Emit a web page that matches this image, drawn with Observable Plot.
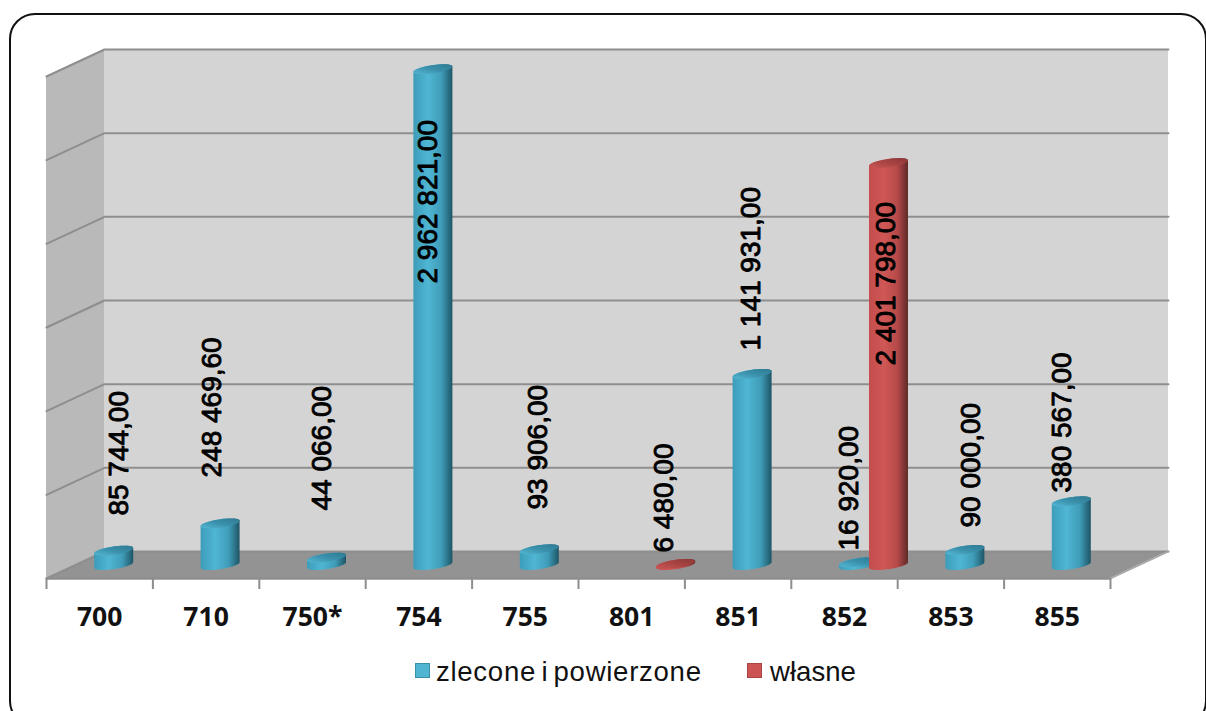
<!DOCTYPE html>
<html lang="pl">
<head>
<meta charset="utf-8">
<script src="https://cdn.jsdelivr.net/npm/d3@7"></script>
<script src="https://cdn.jsdelivr.net/npm/@observablehq/plot@0.6"></script>
<style>
  html, body { margin: 0; padding: 0; width: 1206px; height: 711px; overflow: hidden; background: #fff; }
  #frame { position: absolute; left: 9px; top: 13px; width: 1194px; height: 710px; border: 2px solid #111; border-radius: 26px; }
  #chart { position: absolute; left: 0; top: 0; }
  #chart svg { display: block; background: transparent; overflow: visible; }
  #legend { position: absolute; left: 0; top: 640px; width: 1206px; height: 60px; font: 27.6px "Liberation Sans", Arial, sans-serif; color: #111; }
  #legend span { position: absolute; top: 15px; line-height: 34px; white-space: pre; }
  #legend i { position: absolute; top: 23px; width: 13px; height: 13px; border: 1px solid; }
</style>
</head>
<body>
<div id="frame"></div>
<div id="chart"></div>
<div id="legend">
  <i style="left:415px;background:#4fb5d1;border-color:#3b8fa9"></i><span style="left:436px;letter-spacing:0.7px;word-spacing:-3px">zlecone i powierzone</span>
  <i style="left:747px;background:#cc5452;border-color:#a84544"></i><span style="left:770px">własne</span>
</div>
<script>
const categories = ["700", "710", "750*", "754", "755", "801", "851", "852", "853", "855"];
const zlecone = [85744, 248469.6, 44066, 2962821, 93906, null, 1141931, 16920, 90000, 380567];
const wlasne = [null, null, null, null, null, 6480, null, 2401798, null, null];
const gridValues = [0, 500000, 1000000, 1500000, 2000000, 2500000, 3000000];
const zleconeLabels = ["85 744,00", "248 469,60", "44 066,00", "2 962 821,00", "93 906,00", null, "1 141 931,00", "16 920,00", "90 000,00", "380 567,00"];
const wlasneLabels = [null, null, null, null, null, "6 480,00", null, "2 401 798,00", null, null];
// Hand-placed label anchors of the original chart, in axis units
const zleconeLabelCat = [0.68, 1.56, 2.585, 3.59, 4.62, null, 6.62, 7.54, 8.69, 9.54];
const zleconeLabelVal = [376000, 603600, 406400, 1762900, 412300, null, 1362500, 167300, 304800, 514000];
const wlasneLabelCat = [null, null, null, null, null, 5.80, null, 7.89, null, null];
const wlasneLabelVal = [null, null, null, null, null, 155400, null, 1272900, null, null];

// Oblique depth of the 3D box expressed in axis units
const depthCat = 0.545, depthVal = 161355;
const radiusCat = 0.153, radiusDepth = 0.185, seriesOffset = 0.141;
const nCat = categories.length;

const defs = () => {
  const s = d3.create("svg:defs");
  const grad = (id, stops, y1 = 0, y2 = 0) => {
    const g = s.append("linearGradient").attr("id", id).attr("x1", 0).attr("x2", 1).attr("y1", y1).attr("y2", y2);
    stops.forEach(([o, c]) => g.append("stop").attr("offset", o).attr("stop-color", c));
  };
  grad("blueBody", [[0, "#3c9dba"], [0.38, "#4fb6d3"], [0.72, "#3f9cb8"], [1, "#1d5566"]]);
  grad("blueTop", [[0, "#55b8d4"], [0.5, "#3a90ab"], [1, "#2f7a92"]], 1, 0);
  grad("redBody", [[0, "#c24e4d"], [0.38, "#d05755"], [0.72, "#b64a49"], [1, "#5f2928"]]);
  grad("redTop", [[0, "#cc5654"], [0.5, "#a84443"], [1, "#8c3837"]], 1, 0);
  return s.node();
};

const ellipsePoint = (cx, base, v, t) => ({
  x: cx + radiusCat * Math.cos(t) + radiusDepth * depthCat * Math.sin(t),
  y: base + v + radiusDepth * depthVal * Math.sin(t)
});
const t0 = Math.atan2(radiusDepth * depthCat, radiusCat);
const sweep = (a, b, n = 40) => d3.range(n + 1).map(i => a + (b - a) * i / n);

function cylinders(values, offset) {
  const body = [], cap = [];
  values.forEach((v, i) => {
    if (v == null) return;
    const cx = i + 0.5 + 0.5 * depthCat + offset, base = 0.5 * depthVal;
    sweep(t0 - Math.PI, t0).forEach(t => body.push({ id: i, ...ellipsePoint(cx, base, 0, t) }));
    sweep(t0, t0 + Math.PI).forEach(t => body.push({ id: i, ...ellipsePoint(cx, base, v, t) }));
    sweep(0, 2 * Math.PI, 60).forEach(t => cap.push({ id: i, ...ellipsePoint(cx, base, v, t) }));
  });
  return { body, cap };
}
const blue = cylinders(zlecone, -seriesOffset);
const red = cylinders(wlasne, seriesOffset);

const lineColor = "#8e8e8e";
const gridPaths = gridValues.flatMap(v => [
  { id: v, x: 0, y: v },
  { id: v, x: depthCat, y: v + depthVal },
  { id: v, x: nCat + depthCat, y: v + depthVal }
]);
const labelRows = (labels, cats, vals) => labels.map((t, i) => ({ t, x: cats[i], y: vals[i] })).filter(d => d.t);
const valueLabels = [...labelRows(zleconeLabels, zleconeLabelCat, zleconeLabelVal), ...labelRows(wlasneLabels, wlasneLabelCat, wlasneLabelVal)];
const maxValue = gridValues[gridValues.length - 1];

const plotEl = Plot.plot({
  width: 1206, height: 640,
  marginTop: 0, marginRight: 0, marginBottom: 0, marginLeft: 0,
  x: { type: "linear", domain: [0, nCat], range: [46, 1110], axis: null },
  y: { type: "linear", domain: [0, maxValue], range: [578, 76], axis: null },
  marks: [
    defs,
    // back wall
    Plot.rect([0], { x1: depthCat, x2: nCat + depthCat, y1: depthVal, y2: maxValue + depthVal, fill: "#d4d4d4" }),
    // side wall
    Plot.areaY([0, 1], { x: d => d * depthCat, y1: d => d * depthVal, y2: d => maxValue + d * depthVal, fill: "#b9b9b9" }),
    // floor
    Plot.areaX([0, 1], { y: d => d * depthVal, x1: d => d * depthCat, x2: d => nCat + d * depthCat, fill: "#939393" }),
    // grid lines, wrapping the side wall and the back wall
    Plot.line(gridPaths, { x: "x", y: "y", z: "id", stroke: lineColor, strokeWidth: 2 }),
    Plot.line([0, 1], { x: d => nCat + d * depthCat, y: d => d * depthVal, stroke: "#a8a8a8", strokeWidth: 1.6 }),
    Plot.ruleY([0], { x1: 0, x2: nCat, stroke: lineColor, strokeWidth: 2.4 }),
    Plot.ruleX(d3.range(nCat + 1), { y1: 0, y2: -66000, stroke: lineColor, strokeWidth: 2 }),
    // cylinders
    Plot.line(blue.body, { x: "x", y: "y", z: "id", fill: "url(#blueBody)", stroke: null }),
    Plot.line(blue.cap, { x: "x", y: "y", z: "id", fill: "url(#blueTop)", stroke: null }),
    Plot.line(red.body, { x: "x", y: "y", z: "id", fill: "url(#redBody)", stroke: null }),
    Plot.line(red.cap, { x: "x", y: "y", z: "id", fill: "url(#redTop)", stroke: null }),
    // labels
    Plot.text(valueLabels, {
      x: "x", y: "y", text: "t", rotate: -90, textAnchor: "start", lineAnchor: "middle",
      fontFamily: "Liberation Sans", fontSize: 28, fill: "#000", stroke: "#000", strokeWidth: 0.9
    }),
    Plot.text(categories, {
      x: (d, i) => i + 0.5, y: -233000, text: d => d, textAnchor: "middle", lineAnchor: "middle",
      fontFamily: "Open Sans", fontWeight: 700, fontSize: 26.5, fill: "#111"
    })
  ]
});
document.getElementById("chart").appendChild(plotEl);
</script>
</body>
</html>
